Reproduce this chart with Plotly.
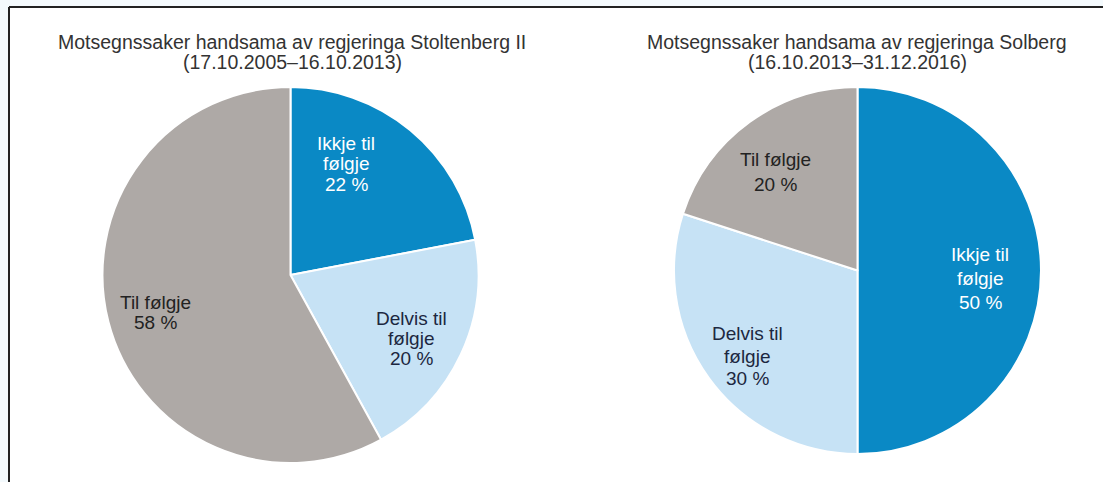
import plotly.graph_objects as go

W, H = 1103, 482

categories = ["Ikkje til følgje", "Delvis til følgje", "Til følgje"]
stoltenberg_pct = [22, 20, 58]
solberg_pct = [50, 30, 20]
titles = [
    ["Motsegnssaker handsama av regjeringa Stoltenberg II", "(17.10.2005–16.10.2013)"],
    ["Motsegnssaker handsama av regjeringa Solberg", "(16.10.2013–31.12.2016)"],
]
colors = ["#0A89C5", "#C6E2F5", "#AEA9A6"]
label_colors = ["#FFFFFF", "#1C2740", "#222222"]


def px(x):
    return x / W


def py(y):
    return 1 - y / H


fig = go.Figure()
fig.add_trace(go.Pie(
    labels=categories, values=stoltenberg_pct, sort=False, direction="clockwise",
    rotation=0, marker=dict(colors=colors, line=dict(color="white", width=2)),
    textinfo="none", hoverinfo="label+percent", showlegend=False,
    domain=dict(x=[px(102.5), px(478.5)], y=[py(463), py(87)]),
))
fig.add_trace(go.Pie(
    labels=categories, values=solberg_pct, sort=False, direction="clockwise",
    rotation=0, marker=dict(colors=colors, line=dict(color="white", width=2)),
    textinfo="none", hoverinfo="label+percent", showlegend=False,
    domain=dict(x=[px(674), px(1041)], y=[py(454), py(87)]),
))

FONT = "Liberation Sans, Arial, sans-serif"
annotations = []


def add_lines(lines, cx, ys, color, size):
    for line, y in zip(lines, ys):
        annotations.append(dict(
            text=line, x=px(cx), y=py(y), xref="paper", yref="paper",
            xanchor="center", yanchor="middle", showarrow=False,
            font=dict(family=FONT, size=size, color=color),
        ))


TS = 19.5
LS = 19
# titles
add_lines(titles[0], 292, [42, 62], "#333333", TS)
add_lines(titles[1], 857, [42, 62], "#333333", TS)


def pct_lines(cat, val):
    words = cat.split(" ")
    if len(words) == 3:
        return [words[0] + " " + words[1], words[2], f"{val} %"]
    return [cat, f"{val} %"]


# left pie labels
add_lines(pct_lines(categories[0], stoltenberg_pct[0]), 346, [143, 163, 184], label_colors[0], LS)
add_lines(pct_lines(categories[1], stoltenberg_pct[1]), 411, [318, 338, 358], label_colors[1], LS)
add_lines(pct_lines(categories[2], stoltenberg_pct[2]), 155, [302, 322], label_colors[2], LS)
# right pie labels
add_lines(pct_lines(categories[0], solberg_pct[0]), 980, [254, 278, 302], label_colors[0], LS)
add_lines(pct_lines(categories[1], solberg_pct[1]), 747, [333, 356, 378], label_colors[1], LS)
add_lines(pct_lines(categories[2], solberg_pct[2]), 775, [160, 184], label_colors[2], LS)

shapes = [
    dict(type="rect", xref="paper", yref="paper", x0=px(9), x1=1.0, y0=0, y1=py(7),
         fillcolor="white", line=dict(width=0), layer="below"),
    dict(type="line", xref="paper", yref="paper", x0=px(9), x1=1.0, y0=py(7), y1=py(7),
         line=dict(color="#222222", width=2)),
    dict(type="line", xref="paper", yref="paper", x0=px(9), x1=px(9), y0=0, y1=py(7),
         line=dict(color="#222222", width=2)),
]

fig.update_layout(
    width=W, height=H, margin=dict(l=0, r=0, t=0, b=0),
    paper_bgcolor="#F4FAFD", plot_bgcolor="white",
    annotations=annotations, shapes=shapes,
    font=dict(family=FONT),
)
fig.write_html(
    "out.html",
    config={"displayModeBar": False},
    post_script="document.body.style.margin='0';document.body.style.overflow='hidden';",
)
